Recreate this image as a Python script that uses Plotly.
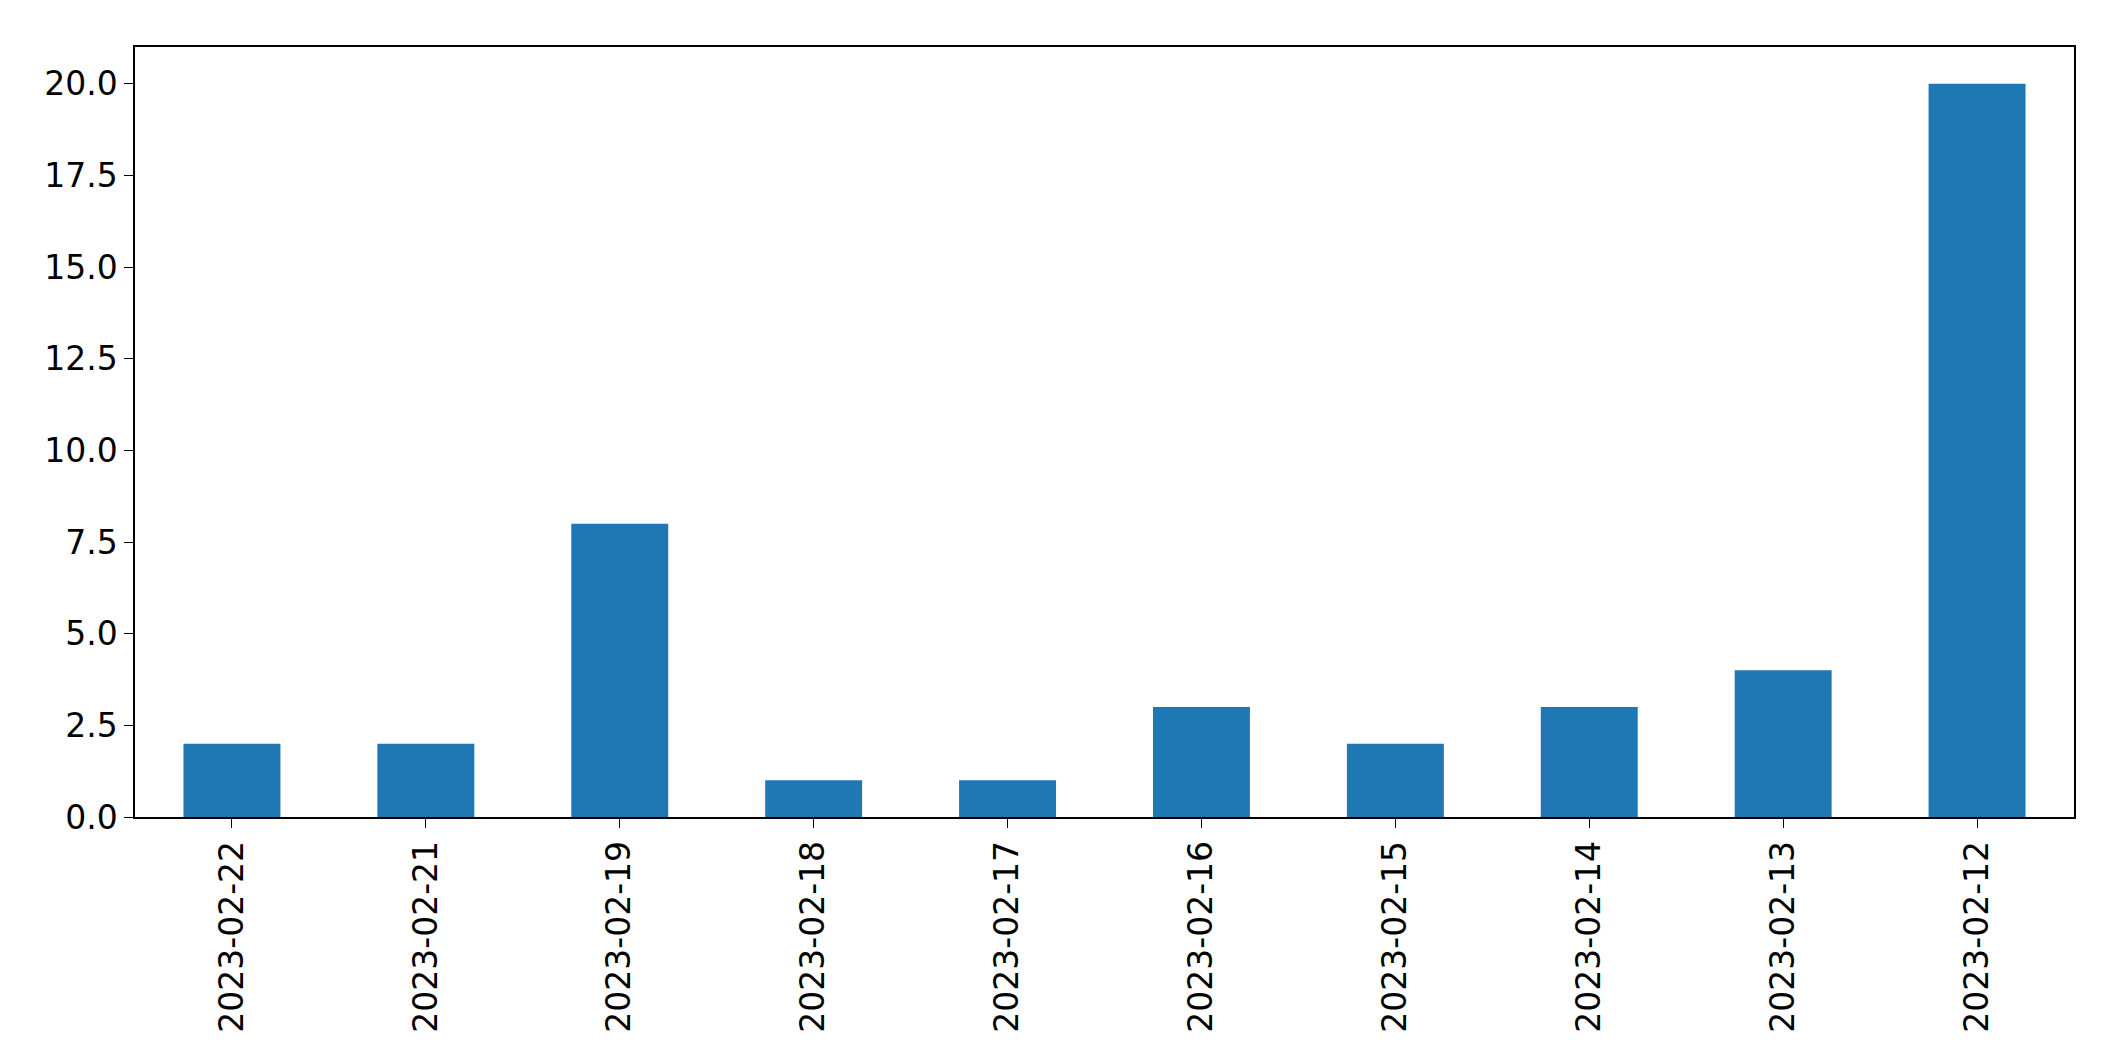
import plotly.graph_objects as go

dates = ["2023-02-22","2023-02-21","2023-02-19","2023-02-18","2023-02-17",
         "2023-02-16","2023-02-15","2023-02-14","2023-02-13","2023-02-12"]
counts = [2, 2, 8, 1, 1, 3, 2, 3, 4, 20]
yticks = [0, 2.5, 5, 7.5, 10, 12.5, 15, 17.5, 20]

fig = go.Figure(go.Bar(x=dates, y=counts, width=0.5, marker_color="#1f77b4", marker_line_width=0))
fig.update_layout(
    width=2104, height=1061, plot_bgcolor="white", paper_bgcolor="white",
    margin=dict(l=127, r=38, t=39, b=252),
    font=dict(family="DejaVu Sans", size=33, color="black"),
    showlegend=False,
)
fig.update_xaxes(type="category", range=[-0.5, 9.5], tickangle=-90, showline=True, linecolor="black",
                 linewidth=1.5, mirror=True, ticks="outside", ticklen=9, tickcolor="black", showgrid=False)
fig.update_yaxes(range=[0, 21], tickvals=yticks, ticktext=[f"{v:.1f}" for v in yticks],
                 showline=True, linecolor="black", linewidth=1.5, mirror=True, ticks="outside",
                 ticklen=9, tickcolor="black", showgrid=False, zeroline=False)
fig.write_html("out.html")
